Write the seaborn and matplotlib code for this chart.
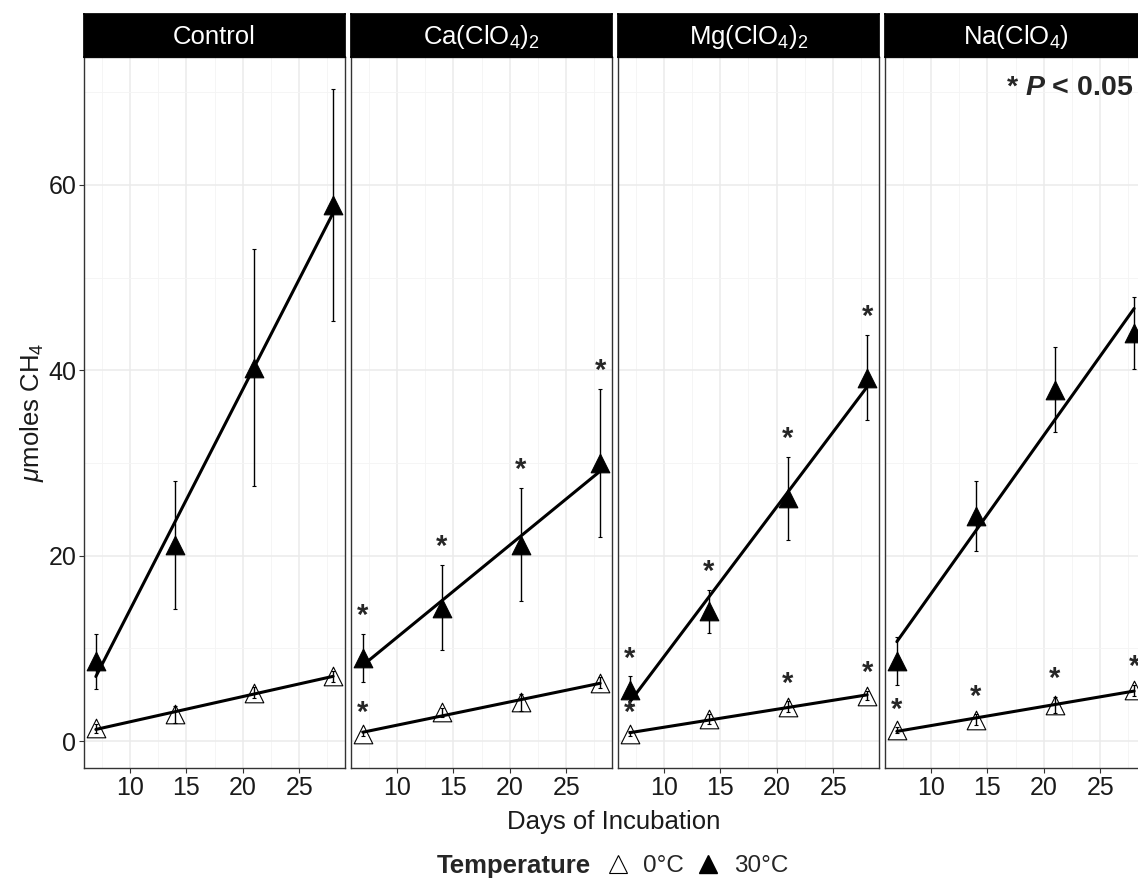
import numpy as np
import pandas as pd
import matplotlib
matplotlib.use("Agg")
import matplotlib.pyplot as plt
from matplotlib.lines import Line2D
import seaborn as sns

# -------------------------------------------------------------
# Data: mean +/- SE methane per treatment
# -------------------------------------------------------------
days = [7, 14, 21, 28]
treatments = ["Control", "Ca(ClO4)2", "Mg(ClO4)2", "Na(ClO4)"]
strip_labels = ["Control", r"Ca(ClO$_4$)$_2$", r"Mg(ClO$_4$)$_2$", r"Na(ClO$_4$)"]

mean_0 = [[1.4, 2.9, 5.2, 7.0],
          [0.8, 3.1, 4.2, 6.3],
          [0.8, 2.4, 3.7, 4.9],
          [1.2, 2.3, 3.9, 5.5]]
se_0 = [[0.5, 0.9, 0.6, 0.6],
        [0.3, 0.5, 0.9, 0.6],
        [0.3, 0.5, 0.6, 0.5],
        [0.3, 0.6, 0.9, 0.6]]
sig_0 = [[0, 0, 0, 0],
         [1, 0, 0, 0],
         [1, 0, 1, 1],
         [1, 1, 1, 1]]

mean_30 = [[8.6, 21.2, 40.3, 57.8],
           [9.0, 14.4, 21.2, 30.0],
           [5.5, 14.0, 26.2, 39.2],
           [8.6, 24.3, 37.9, 44.0]]
se_30 = [[3.0, 6.9, 12.8, 12.5],
         [2.6, 4.6, 6.1, 8.0],
         [1.5, 2.3, 4.5, 4.6],
         [2.6, 3.8, 4.6, 3.9]]
sig_30 = [[0, 0, 0, 0],
          [1, 1, 1, 1],
          [1, 1, 1, 1],
          [0, 0, 0, 0]]

temps = ["0°C", "30°C"]

rows = []
for t, trt in enumerate(treatments):
    for temp, m, s, g in [("0°C", mean_0, se_0, sig_0), ("30°C", mean_30, se_30, sig_30)]:
        for d, day in enumerate(days):
            rows.append({"treatment": trt, "temp": temp, "day": day,
                         "mean": m[t][d], "se": s[t][d], "sig": g[t][d]})
df = pd.DataFrame(rows)

# -------------------------------------------------------------
# Style
# -------------------------------------------------------------
sns.set_theme(style="white")
plt.rcParams["font.family"] = ["Liberation Sans", "DejaVu Sans"]
plt.rcParams["mathtext.fontset"] = "custom"
plt.rcParams["mathtext.rm"] = "Liberation Sans"
plt.rcParams["mathtext.it"] = "Liberation Sans:italic"
plt.rcParams["mathtext.bf"] = "Liberation Sans:bold"
plt.rcParams["mathtext.bfit"] = "Liberation Sans:italic:bold"

W, H = 1138, 880
fig = plt.figure(figsize=(W / 100, H / 100), dpi=100)

x_lim = (5.95, 29.05)
y_lim = (-2.9, 73.8)
edge = "#333333"

for i, trt in enumerate(treatments):
    left = (84 + i * 267) / W
    ax = fig.add_axes([left, (H - 768) / H, 261 / W, 711 / H])
    sub = df[df["treatment"] == trt]

    ax.set_xlim(*x_lim)
    ax.set_ylim(*y_lim)
    ax.set_xticks([10, 15, 20, 25])
    ax.set_xticks([7.5, 12.5, 17.5, 22.5, 27.5], minor=True)
    ax.set_yticks([0, 20, 40, 60])
    ax.set_yticks([10, 30, 50, 70], minor=True)
    ax.grid(which="major", color="#ebebeb", lw=1.1)
    ax.grid(which="minor", color="#f4f4f4", lw=0.6)
    ax.set_axisbelow(True)
    for sp in ax.spines.values():
        sp.set_color(edge)
        sp.set_linewidth(1.0)
    ax.tick_params(which="major", length=3.5, width=0.8, color=edge,
                   labelsize=18, labelcolor="#1a1a1a", pad=2)
    ax.tick_params(which="minor", length=0)
    ax.tick_params(axis="x", bottom=True)
    if i == 0:
        ax.tick_params(axis="y", left=True)
    else:
        ax.tick_params(axis="y", left=False, labelleft=False)

    for temp in temps:
        s = sub[sub["temp"] == temp]
        filled = temp == "30°C"
        sns.scatterplot(data=s, x="day", y="mean", marker="^", s=180,
                        color="black" if filled else "white",
                        edgecolor="black", linewidth=0.8, ax=ax, zorder=3,
                        legend=False)
        ax.errorbar(s["day"], s["mean"], yerr=s["se"], fmt="none",
                    ecolor="black", elinewidth=1.0, capsize=1.5, capthick=0.8,
                    zorder=4)
        sns.regplot(data=s, x="day", y="mean", scatter=False, ci=None,
                    truncate=True, color="black", line_kws={"lw": 2.2, "zorder": 5},
                    ax=ax)
        for _, r in s[s["sig"] == 1].iterrows():
            ax.text(r["day"], r["mean"] + r["se"] + 0.4, "*", ha="center",
                    va="bottom", fontsize=21, fontweight="bold", zorder=6)
    ax.set_xlabel("")
    ax.set_ylabel("")

    if i == 3:
        ax.text(22.3, 70.5, r"* $\mathbfit{P}$ < 0.05", ha="center", va="center",
                fontsize=20.5, fontweight="bold")

    strip = fig.add_axes([left, (H - 57) / H, 261 / W, 43 / H])
    strip.set_facecolor("black")
    strip.set_xticks([])
    strip.set_yticks([])
    for sp in strip.spines.values():
        sp.set_color("black")
    strip.text(0.5, 0.47, strip_labels[i], color="white", ha="center",
               va="center", fontsize=18.5, transform=strip.transAxes)

fig.text(614 / W, 1 - 822 / H, "Days of Incubation", ha="center", va="center",
         fontsize=18.5, color="#1a1a1a")
fig.text(32 / W, 1 - 412 / H, r"$\mu$moles CH$_4$", ha="center", va="center",
         rotation=90, fontsize=18.5, color="#1a1a1a")

# legend at the bottom
fig.text(437 / W, 1 - 866 / H, "Temperature", ha="left", va="center",
         fontsize=18.5, fontweight="bold")
handles = [Line2D([], [], marker="^", ls="none", markersize=13,
                  markerfacecolor="white", markeredgecolor="black", markeredgewidth=0.8),
           Line2D([], [], marker="^", ls="none", markersize=13,
                  markerfacecolor="black", markeredgecolor="black")]
fig.legend(handles, temps, loc="center left", bbox_to_anchor=(603 / W, 1 - 866 / H),
           ncol=2, frameon=False, fontsize=17.5, handlelength=1.2, handletextpad=0.45,
           columnspacing=0.4, borderaxespad=0, borderpad=0)

fig.savefig("out.png", dpi=100)
